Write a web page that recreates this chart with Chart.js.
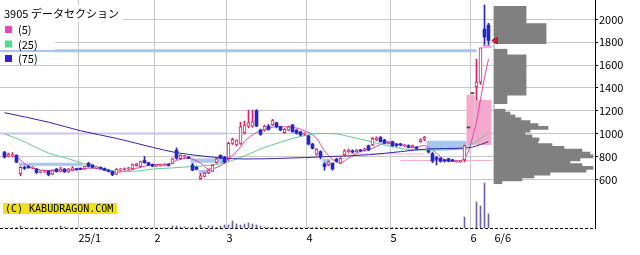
<!DOCTYPE html>
<html><head><meta charset="utf-8">
<script src="https://cdn.jsdelivr.net/npm/chart.js@4.4.1/dist/chart.umd.min.js"></script>
<style>
html,body{margin:0;padding:0;background:#fff;overflow:hidden}
#wrap{position:relative;width:640px;height:255px}
#main{position:absolute;left:0;top:0;width:640px;height:255px}
#prof{position:absolute;left:488px;top:0;width:107px;height:228px}
</style></head><body>
<div id="wrap"><canvas id="main" width="640" height="255"></canvas><canvas id="prof" width="107" height="228"></canvas></div>
<script>
// ---------- data ----------
const titleText = '3905 データセクション';
const maNames = ['(5)', '(25)', '(75)'];
const xTickPos = [18.5, 37.5, 55.5, 75.5, 96.5, 116.5, 122.5];
const xTickLabels = ['25/1', '2', '3', '4', '5', '6', '6/6'];
const yTicks = [600, 800, 1000, 1200, 1400, 1600, 1800, 2000];

const opens = [835,800,805,810,650,705,712,698,690,660, 665,672,645,690,668,690,665,680,692,695,
 690,740,725,700,705,695,680,668,645,680, 685,690,690,720,712,765,745,730,715,720,
 722,730,740,855,780,795,795,725,705,605, 625,655,670,745,810,795,785,915,900,915,
 1005,1066,1066,1200,1031,1031,1066,1075,1095,1060, 1008,1031,1075,1031,1017,994,979,909,821,842,
 735,725,740,775,742,813,842,850,842,856, 850,894,900,944,966,944,915,929,905,910,
 892,895,880,880,930,950,850,825,790,783, 770,780,768,755,755,770,1050,1350,1410,1450, 1915,1950];
const highs = [845,830,835,815,712,715,720,712,695,675, 680,676,685,695,705,695,695,712,698,700,
 718,750,730,710,710,700,684,672,695,695, 700,705,735,740,760,800,750,735,730,732,
 735,736,785,875,815,810,800,740,712,652, 660,685,730,785,815,800,925,960,945,1100,
 1110,1206,1206,1210,1040,1075,1080,1125,1100,1065, 1045,1066,1080,1035,1020,1010,985,915,870,850,
 745,760,745,785,790,860,865,858,862,862, 872,900,965,972,975,950,932,935,912,915,
 908,902,900,885,955,975,855,835,800,790, 775,785,775,765,765,900,1050,1350,1650,1750, 2125,1965];
const lows = [785,795,795,745,630,685,698,692,650,655, 660,630,640,662,665,660,660,676,680,684,
 686,708,700,695,690,676,665,632,640,676, 680,686,686,716,708,740,720,710,710,715,
 718,716,736,775,775,790,782,675,682,598, 620,650,668,740,780,740,765,905,890,905,
 995,1050,1055,1060,985,1020,1030,1070,1050,1025, 1000,1025,1010,995,980,985,900,865,810,778,
 680,718,680,750,735,805,835,830,838,840, 845,850,895,938,925,910,908,888,888,892,
 885,875,875,862,925,938,830,745,725,750, 750,752,755,750,748,752,1050,1350,1295,1430, 1775,1775];
const closes = [795,820,815,750,705,695,700,708,660,670, 675,640,680,668,690,665,690,700,685,688,
 715,712,705,705,695,680,670,640,690,690, 695,700,730,735,755,745,725,715,725,728,
 730,720,780,785,810,805,785,680,688,630, 655,680,725,780,785,750,915,950,938,1060,
 1075,1095,1104,1066,994,1066,1037,1113,1060,1031, 1037,1060,1017,1002,988,1002,909,871,865,800,
 712,754,690,760,783,850,856,838,856,848, 866,856,958,964,929,915,925,894,895,900,
 900,880,895,870,948,968,838,760,775,758, 760,758,762,760,760,895,1050,1350,1450,1750, 1845,1815];
// volume, thousand shares
const volumes = [30,25,20,60,200,40,30,25,50,30, 20,40,30,25,200,100,30,35,25,30,
 40,50,30,25,30,35,30,40,50,30, 25,30,40,35,50,100,40,30,25,30,
 30,40,200,200,100,100,40,60,50,300, 60,200,200,80,200,300,300,700,400,300,
 400,500,400,300,200,100,80,60,50,60, 50,40,40,50,40,30,60,50,80,60,
 70,50,60,40,50,40,30,30,40,30, 30,40,60,50,40,30,30,40,30,30,
 30,40,30,40,50,60,60,80,100,50, 40,30,40,30,40,1100,0,0,2600,2200, 4500,1400];

const ma5Idx = [2,4,5,7,11,16,19,21,24,27,30,33,37,41,43,46,49,51,54,56,58,60,63,66,68,72,75,78,80,82,84,86,89,92,94,96,99,102,105,106,108,110,113,114,115,116,117,118,119,120,121];
const ma5Val = [813,770,735,700,676,678,688,698,690,662,668,696,728,735,765,785,742,690,720,783,840,930,1010,1045,1060,1055,1025,960,850,775,745,785,845,871,905,925,903,880,895,880,830,772,757,760,790,848,966,1104,1300,1489,1651];
const ma25Idx = [0,4,11,16,19,24,28,32,37,42,47,52,55,59,64,69,74,79,83,86,90,95,100,106,112,117,121];
const ma25Val = [998,944,830,780,745,700,672,670,690,700,712,725,745,790,865,925,975,1000,997,975,944,900,866,856,860,910,1010];
const ma75Idx = [0,11,19,28,37,43,49,54,60,68,75,82,91,99,106,114,117,121];
const ma75Val = [1183,1100,1025,958,880,833,806,788,778,782,790,800,815,842,866,872,882,930];

// price gaps (windows): from/to candle index, price range, direction
const gapFrom = [3.5, 46.5, 48.5, 79.5, 105.5, 115.5, 117.5, 119.5];
const gapTo   = [19.5, 55.5, 51.5, 81.5, 115.5, 117.5, 121.75, 121.75];
const gapLow  = [718, 745, 652, 745, 855, 900, 900, 1750];
const gapHigh = [745, 782, 682, 778, 938, 1340, 1295, 1775];
const gapDir  = [-1, -1, -1, -1, -1, 1, 1, 1];

// horizontal price levels
const levelPrice = [1725, 1000, 822, 765];
const levelFrom  = [-1.2, -1.2, 84.5, 99];
const levelTo    = [118, 55.5, 105, 121.75];

// volume by price
const profilePrices = [575,600,625,650,675,700,725,750,775,800,825,850,875,900,925,950,975,1000,1025,1050,
 1075,1100,1125,1150,1175,1200,1225,1250,1275,1300,1325,1350,1375,1400,1425,1450,1475,1500,1525,1550,
 1575,1600,1625,1650,1675,1700,1725,1750,1775,1800,1825,1850,1875,1900,1925,1950,1975,2000,2025,2050,2075,2100];
const profileVolume = [8,28,40,56,92,99,88,76,86,99,96,88,70,58,44,45,38,31,36,54,
 44,36,27,21,16,11,0,0,13,13,13,32,32,32,32,32,32,32,32,32,
 32,32,32,32,32,13,13,0,0,52,52,52,52,52,52,52,32,32,32,32,32,32];

// ---------- styles ----------
const UP = '#dc1f62', DOWN = '#2626c8', FLAT = '#3c4a3c';
const MA_COLORS = ['#e43fac', '#5fcb8c', '#3325a8'];
const LEGEND_SQ = ['#ee44bb', '#4fdc8c', '#3322cc'];
const LEVEL_COLORS = ['#a9c6ef', '#c6c6ee', '#f3b4d2', '#f3aacd'];
const LEVEL_WIDTHS = [3, 2, 1, 1];
const GRID = '#c8c8c8';
const FONT = "'Noto Sans CJK JP', 'DejaVu Sans', sans-serif";

Chart.defaults.font.family = FONT;
Chart.defaults.font.size = 11;
Chart.defaults.color = '#000';

const n = closes.length;
const cColor = closes.map((c, i) => c > opens[i] ? UP : (c < opens[i] ? DOWN : FLAT));
const bodyFill = closes.map((c, i) => c > opens[i] ? '#ffffff' : cColor[i]);
const bodyBorderW = closes.map((c, i) => c > opens[i] ? 1 : 0);

const maLine = (idx, val, k) => ({
  type: 'line', data: idx.map((x, j) => ({x, y: val[j]})),
  borderColor: MA_COLORS[k], borderWidth: 1, pointRadius: 0,
  cubicInterpolationMode: 'monotone', fill: false, order: 4
});

const levelSets = levelPrice.map((p, k) => ({
  type: 'line', data: [{x: levelFrom[k], y: p}, {x: levelTo[k], y: p}],
  borderColor: LEVEL_COLORS[k], borderWidth: LEVEL_WIDTHS[k], pointRadius: 0, order: 7
}));

const gapPlugin = {
  id: 'gaps',
  beforeDatasetsDraw(chart) {
    const {ctx, chartArea: a, scales: {x, y}} = chart;
    ctx.save();
    ctx.strokeStyle = '#000'; ctx.lineWidth = 1; ctx.setLineDash([3, 2]);
    ctx.beginPath(); ctx.moveTo(a.left, a.bottom + 0.5); ctx.lineTo(a.right, a.bottom + 0.5); ctx.stroke();
    ctx.setLineDash([]);
    ctx.beginPath(); ctx.rect(a.left, a.top, a.right - a.left, a.bottom - a.top); ctx.clip();
    gapFrom.forEach((f, k) => {
      const x1 = x.getPixelForValue(f), x2 = x.getPixelForValue(gapTo[k]);
      const y1 = y.getPixelForValue(gapHigh[k]), y2 = y.getPixelForValue(gapLow[k]);
      ctx.fillStyle = gapDir[k] > 0 ? '#f5aacd' : '#a9c6ef';
      ctx.fillRect(x1, y1, x2 - x1, y2 - y1);
    });
    ctx.restore();
  }
};

const overlayPlugin = {
  id: 'overlay',
  afterDraw(chart) {
    const c = chart.ctx;
    c.save();
    c.textBaseline = 'middle';
    c.textAlign = 'left';
    c.font = "11px " + FONT;
    const tw = c.measureText(titleText).width;
    c.fillStyle = '#fff'; c.fillRect(0, 5, tw + 8, 17);
    c.fillStyle = '#000'; c.fillText(titleText, 4, 14);
    const rowsY = [29.5, 44, 58.5];
    maNames.forEach((t, k) => {
      c.fillStyle = '#fff'; c.fillRect(0, rowsY[k] - 6, 55, 12);
      c.fillStyle = LEGEND_SQ[k]; c.fillRect(5, rowsY[k] - 3.5, 7, 7);
      c.fillStyle = '#000'; c.fillText(t, 18, rowsY[k] + 0.5);
    });
    c.fillStyle = '#f0e01c'; c.fillRect(3, 203, 114, 11);
    c.font = "10px 'DejaVu Sans Mono', monospace";
    c.fillStyle = '#000'; c.fillText('(C) KABUDRAGON.COM', 5, 209);
    c.restore();
  }
};

const zeroPad = s => { s.paddingTop = 0; s.paddingBottom = 0; s.paddingLeft = 0; s.paddingRight = 0; };

new Chart(document.getElementById('main'), {
  type: 'bar',
  data: {
    datasets: [
      ...levelSets,
      {type: 'bar', yAxisID: 'yv', data: volumes.map((v, i) => ({x: i, y: v})),
       backgroundColor: '#6a64b0', barThickness: 1, grouped: false, order: 6, borderWidth: 0},
      maLine(ma75Idx, ma75Val, 2),
      maLine(ma25Idx, ma25Val, 1),
      maLine(ma5Idx, ma5Val, 0),
      {type: 'bar', data: lows.map((l, i) => ({x: i, y: [l, highs[i]]})),
       backgroundColor: cColor, barThickness: 1, grouped: false, order: 3, borderWidth: 0},
      {type: 'bar', data: opens.map((o, i) => ({x: i, y: [Math.min(o, closes[i]), Math.max(o, closes[i])]})),
       backgroundColor: bodyFill, borderColor: UP, borderWidth: bodyBorderW, borderSkipped: false,
       barThickness: 3, minBarLength: 1, grouped: false, order: 2}
    ]
  },
  options: {
    responsive: false, animation: false, devicePixelRatio: 1,
    layout: {padding: 0, autoPadding: false},
    plugins: {legend: {display: false}, tooltip: {enabled: false}},
    scales: {
      x: {
        type: 'linear', min: -1.125, max: 147.625, offset: false,
        grid: {offset: false, drawTicks: false, lineWidth: 1,
               color: ctx => (ctx.tick && ctx.tick.value === xTickPos[xTickPos.length - 1]) ? 'rgba(0,0,0,0)' : GRID},
        border: {display: false},
        afterBuildTicks: s => { s.ticks = xTickPos.map(v => ({value: v})); },
        ticks: {align: 'start', padding: 3, autoSkip: false, maxRotation: 0, color: '#000',
                callback: v => xTickLabels[xTickPos.indexOf(v)]},
        afterFit: s => { s.height = 27; zeroPad(s); }
      },
      y: {
        type: 'linear', position: 'right', min: 174, max: 2169, bounds: 'data',
        grid: {color: GRID, drawTicks: true, tickLength: 3, tickColor: '#000'},
        border: {display: true, color: '#000'},
        afterBuildTicks: s => { s.ticks = yTicks.map(v => ({value: v})); },
        ticks: {padding: 1, color: '#000', callback: v => String(v)},
        afterFit: s => { s.width = 45; zeroPad(s); }
      },
      yv: {type: 'linear', display: false, min: 0, max: 22800}
    }
  },
  plugins: [gapPlugin, overlayPlugin]
});

new Chart(document.getElementById('prof'), {
  type: 'bar',
  data: {
    datasets: [
      {type: 'scatter', data: [{x: 1.5, y: closes[n - 1]}],
       pointStyle: 'triangle', pointRotation: -90, pointRadius: 3.6,
       pointBackgroundColor: '#e8202a', pointBorderColor: '#8a1a1a', pointBorderWidth: 1, order: 1, clip: false},
      {type: 'bar', data: profilePrices.map((p, k) => ({x: profileVolume[k], y: p})),
       backgroundColor: '#808080', borderWidth: 0, barThickness: 3.1, grouped: false, order: 2}
    ]
  },
  options: {
    indexAxis: 'y',
    responsive: false, animation: false, devicePixelRatio: 1,
    layout: {padding: 0, autoPadding: false},
    plugins: {legend: {display: false}, tooltip: {enabled: false}},
    scales: {
      x: {type: 'linear', display: false, min: -6, max: 101, offset: false, grid: {offset: false}},
      y: {type: 'linear', display: false, min: 174, max: 2169, offset: false, grid: {offset: false}}
    }
  }
});
</script>
</body></html>
